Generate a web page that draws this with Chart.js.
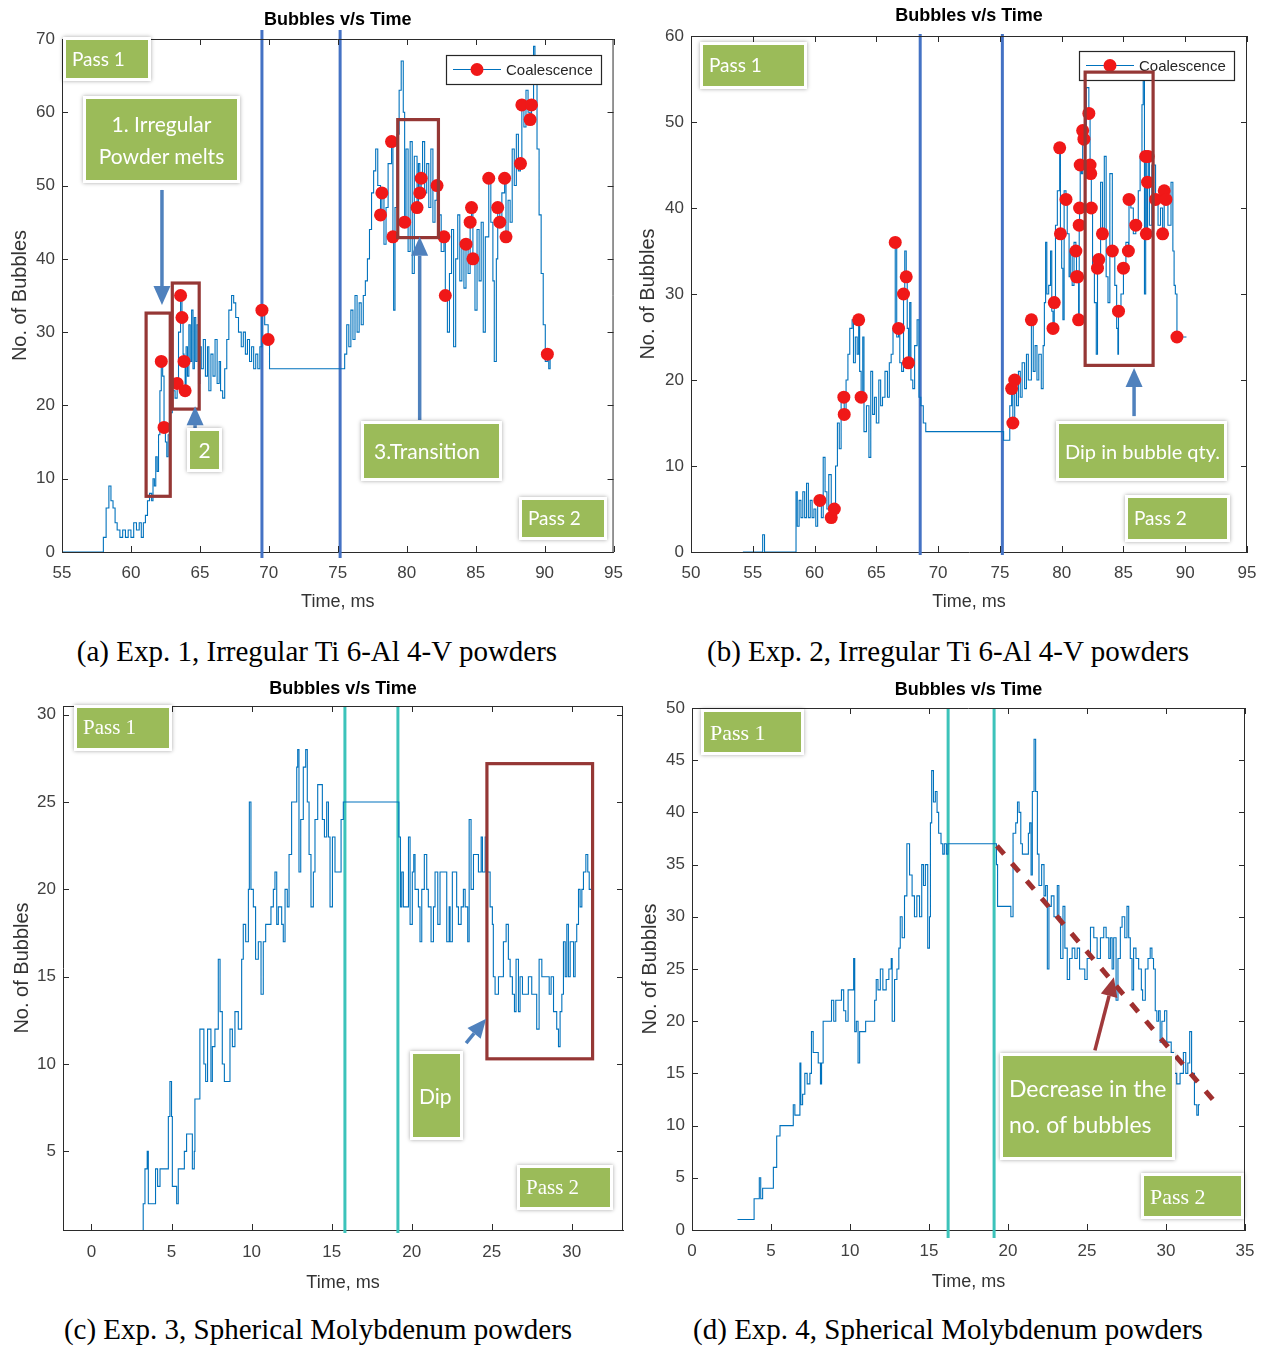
<!DOCTYPE html>
<html><head><meta charset="utf-8">
<script src="https://cdn.jsdelivr.net/npm/chart.js@4.4.1/dist/chart.umd.min.js"></script>
<style>
html,body{margin:0;padding:0;background:#fff;}
#root{position:relative;width:1268px;height:1346px;overflow:hidden;background:#fff;}
canvas{position:absolute;}
.gb{position:absolute;background:#9BBB59;color:#fff;box-sizing:border-box;border:3px solid #fff;box-shadow:0 0 4px rgba(0,0,0,0.35);font-family:Lato,"Open Sans",sans-serif;display:flex;align-items:center;padding-left:6px;z-index:5;line-height:1.5;}
.gb.c{justify-content:center;text-align:center;padding-left:0;}
.gb.s{font-family:"Liberation Serif","Times New Roman",serif;}
.cap{position:absolute;font-family:"Liberation Serif","Times New Roman",serif;font-size:29px;line-height:30px;color:#000;white-space:nowrap;transform:translateX(-50%);}
</style></head>
<body>
<div id="root">
<canvas id="ca" width="634" height="620" style="left:0;top:0"></canvas>
<canvas id="cb" width="634" height="620" style="left:634px;top:0"></canvas>
<canvas id="cc" width="634" height="640" style="left:0;top:670px"></canvas>
<canvas id="cd" width="634" height="640" style="left:634px;top:670px"></canvas>

<div class="gb" style="left:63px;top:37px;width:88px;height:44px;font-size:19px;">Pass 1</div>
<div class="gb c" style="left:83px;top:96px;width:157px;height:87px;font-size:21px;">1. Irregular<br>Powder melts</div>
<div class="gb c" style="left:187px;top:428px;width:35px;height:44px;font-size:21px;">2</div>
<div class="gb" style="left:361px;top:421px;width:141px;height:60px;font-size:21px;padding-left:10px;">3.Transition</div>
<div class="gb" style="left:519px;top:497px;width:88px;height:43px;font-size:19px;">Pass 2</div>

<div class="gb" style="left:700px;top:42px;width:107px;height:47px;font-size:19px;">Pass 1</div>
<div class="gb" style="left:1056px;top:421px;width:171px;height:60px;font-size:20px;">Dip in bubble qty.</div>
<div class="gb" style="left:1125px;top:495px;width:105px;height:47px;font-size:19px;">Pass 2</div>

<div class="gb s" style="left:74px;top:705px;width:98px;height:46px;font-size:21px;">Pass 1</div>
<div class="gb" style="left:410px;top:1051px;width:53px;height:89px;font-size:21px;">Dip</div>
<div class="gb s" style="left:517px;top:1165px;width:96px;height:45px;font-size:21px;">Pass 2</div>

<div class="gb s" style="left:701px;top:709px;width:103px;height:46px;font-size:22px;">Pass 1</div>
<div class="gb" style="left:1000px;top:1053px;width:175px;height:107px;font-size:23px;line-height:1.55;">Decrease in the<br>no. of bubbles</div>
<div class="gb s" style="left:1141px;top:1173px;width:103px;height:46px;font-size:22px;">Pass 2</div>

<div class="cap" style="left:317px;top:636px">(a) Exp. 1, Irregular Ti 6-Al 4-V powders</div>
<div class="cap" style="left:948px;top:636px">(b) Exp. 2, Irregular Ti 6-Al 4-V powders</div>
<div class="cap" style="left:318px;top:1314px">(c) Exp. 3, Spherical Molybdenum powders</div>
<div class="cap" style="left:948px;top:1314px">(d) Exp. 4, Spherical Molybdenum powders</div>
</div>
<script>
// ---------- DATA ----------
const chartTitle = 'Bubbles v/s Time';
const xTitle = 'Time, ms';
const yTitle = 'No. of Bubbles';
const seriesName = 'Coalescence';

// (a) Exp. 1
const aTime = [55,57.9,58.0,58.2,58.4,58.55,58.7,58.85,59.0,59.2,
59.4,59.6,59.8,60.0,60.2,60.4,60.6,60.75,60.9,61.05,
61.2,61.35,61.5,61.6,61.7,61.8,61.9,62.0,62.1,62.2,
62.3,62.4,62.5,62.6,62.7,62.85,63.0,63.2,63.35,63.45,
63.6,63.7,63.78,63.85,63.93,64.0,64.1,64.2,64.3,64.4,
64.5,64.6,64.7,64.8,64.9,65.0,65.1,65.25,65.4,65.55,
65.65,65.8,65.95,66.1,66.25,66.4,66.5,66.65,66.8,66.95,
67.1,67.3,67.45,67.6,67.8,68.0,68.15,68.3,68.45,68.6,
68.75,68.9,69.05,69.2,69.35,69.5,69.7,69.95,70.05,75.4,
75.5,75.65,75.8,75.95,76.1,76.25,76.4,76.55,76.7,76.85,
77.0,77.15,77.3,77.45,77.6,77.75,77.9,78.1,78.2,78.35,
78.5,78.65,78.9,79.0,79.05,79.15,79.3,79.45,79.6,79.75,
79.85,79.95,80.1,80.25,80.4,80.55,80.75,80.85,80.95,81.05,
81.15,81.3,81.45,81.6,81.75,81.9,82.05,82.2,82.35,82.5,
82.7,82.8,82.95,83.1,83.25,83.4,83.55,83.7,83.85,84.0,
84.15,84.3,84.45,84.6,84.7,84.8,84.95,85.1,85.25,85.4,
85.55,85.7,85.95,86.1,86.25,86.35,86.5,86.6,86.75,86.9,
87.1,87.2,87.35,87.5,87.65,87.8,87.95,88.1,88.25,88.35,
88.5,88.65,88.8,88.95,89.05,89.2,89.3,89.45,89.6,89.75,
89.9,90.05,90.2,90.3,90.4];
const aCount = [0,0,2,6,9,7,6,4,3,2,
3,2,3,2,4,3,4,2,4,5,
7,8,7,10,9,13,11,16,22,26,
24,17,15,13,16,19,22,21,23,30,
35,32,27,26,22,28,24,31,26,33,
25,32,26,31,23,28,25,29,24,28,
22,27,24,29,23,26,22,21,25,29,
33,35,34,32,30,28,30,27,29,26,
28,25,27,25,28,33,31,29,25,25,
27,31,28,33,29,35,30,34,31,35,
37,40,44,49,52,55,50,46,49,42,
47,53,56,43,33,47,57,63,67,60,
45,55,41,56,38,54,47,53,49,51,
56,49,53,47,55,45,48,50,46,41,
43,35,30,38,44,28,40,46,37,42,
36,42,38,45,47,40,33,44,37,45,
30,43,51,45,37,26,40,47,45,49,
51,43,48,45,55,50,57,52,53,61,
58,63,60,59,61,69,64,55,46,38,
31,26,27,25,27];
const aMarkTime = [62.2,62.4,63.35,63.6,63.7,63.85,63.93,69.5,69.95,78.1,78.2,78.9,79.0,79.85,80.75,80.95,81.05,82.2,82.7,82.8,84.3,84.6,84.7,84.8,85.95,86.6,86.75,87.1,87.2,88.25,88.35,88.95,89.05,90.2];
const aMarkCount = [26,17,23,35,32,26,22,33,29,46,49,56,43,45,47,49,51,50,43,35,42,45,47,40,51,47,45,51,43,53,61,59,61,27];
const aXTicks = [55,60,65,70,75,80,85,90,95];
const aYTicks = [0,10,20,30,40,50,60,70];

// (b) Exp. 2
const bTime = [54.2,55.75,55.8,55.95,58.4,58.5,58.6,58.75,58.9,59.05,
59.2,59.35,59.5,59.65,59.8,59.95,60.1,60.25,60.43,60.55,
60.7,60.85,61.0,61.15,61.35,61.5,61.6,61.7,61.85,62.0,
62.15,62.37,62.4,62.55,62.7,62.85,63.04,63.15,63.3,63.45,
63.57,63.65,63.77,63.9,64.0,64.2,64.4,64.55,64.7,64.85,
65.0,65.2,65.35,65.5,65.7,65.9,66.05,66.2,66.35,66.53,
66.65,66.8,66.9,67.05,67.2,67.3,67.42,67.5,67.6,67.7,
67.8,67.95,68.1,68.3,68.45,68.6,68.8,69.0,75.2,75.3,
75.7,75.8,75.95,76.05,76.2,76.35,76.5,76.65,76.8,77.0,
77.15,77.3,77.55,77.7,77.85,78.0,78.15,78.35,78.5,78.6,
78.7,78.8,78.95,79.1,79.2,79.3,79.4,79.5,79.65,79.84,
79.9,80.0,80.1,80.2,80.35,80.45,80.6,80.7,80.85,81.0,
81.15,81.2,81.3,81.37,81.42,81.45,81.5,81.6,81.7,81.8,
82.0,82.2,82.3,82.35,82.4,82.5,82.65,82.8,82.9,83.0,
83.15,83.3,83.45,83.6,83.75,83.9,84.1,84.3,84.45,84.55,
84.6,84.8,85.0,85.2,85.4,85.45,85.6,85.8,86.0,86.2,
86.35,86.5,86.6,86.7,86.8,86.85,86.95,87.0,87.1,87.3,
87.6,87.8,88.0,88.17,88.3,88.44,88.6,88.85,89.0,89.1,
89.2,89.33,90.1];
const bCount = [0,0,2,0,0,7,3,6,4,7,
4,8,4,6,4,5,3,6,6,4,
11,7,5,9,4,5,5,10,15,12,
18,18,16,20,23,26,27,22,25,23,
27,21,18,25,14,17,11,21,16,18,
15,20,17,18,21,18,22,23,26,36,
25,26,22,21,30,35,32,26,22,29,
20,19,24,27,18,17,15,14,14,13,
13,17,19,15,20,17,21,18,22,19,
23,20,27,21,24,20,23,19,24,29,
36,30,31,35,28,26,29,38,42,47,
37,33,27,42,41,37,32,35,31,36,
35,32,32,27,38,40,45,44,49,48,
54,51,45,44,40,33,29,23,33,34,
43,37,46,32,29,44,35,31,26,23,
28,30,33,36,35,41,40,37,38,42,
46,52,55,30,46,37,43,46,38,45,
41,38,40,37,42,41,38,43,35,31,
30,25,25];
const bMarkTime = [60.43,61.35,61.6,62.37,62.4,63.57,63.77,66.53,66.8,67.2,67.42,67.6,75.95,76.05,76.2,77.55,79.3,79.4,79.84,79.9,80.35,81.15,81.2,81.3,81.37,81.42,81.45,81.5,81.7,81.8,82.2,82.3,82.35,82.4,82.9,83.0,83.3,84.1,84.6,85.0,85.4,85.45,86.0,86.8,86.85,86.95,87.0,87.6,88.17,88.3,88.44,89.33];
const bMarkCount = [6,4,5,18,16,27,18,36,26,30,32,22,19,15,20,27,26,29,47,37,41,35,32,32,27,38,40,45,49,48,51,45,44,40,33,34,37,35,28,33,35,41,38,46,37,43,46,41,37,42,41,25];
const bXTicks = [50,55,60,65,70,75,80,85,90,95];
const bYTicks = [0,10,20,30,40,50,60];

// (c) Exp. 3
const cTime = [3.15,3.23,3.34,3.48,3.55,3.86,4.0,4.13,4.28,4.69,
4.8,4.9,5.0,5.05,5.32,5.42,5.63,5.8,5.94,6.15,
6.3,6.42,6.46,6.63,6.77,6.88,7.02,7.13,7.25,7.46,
7.55,7.71,7.92,8.03,8.17,8.3,8.5,8.65,8.8,8.96,
9.17,9.38,9.48,9.63,9.8,9.86,9.96,10.11,10.25,10.42,
10.59,10.73,10.88,11.05,11.21,11.36,11.46,11.57,11.67,11.88,
11.98,12.09,12.23,12.34,12.5,12.67,12.82,12.88,12.96,13.07,
13.23,13.38,13.48,13.59,13.71,13.86,13.96,14.13,14.28,14.42,
14.55,14.69,14.8,14.9,15.05,15.21,15.42,15.59,15.73,19.15,
19.2,19.3,19.38,19.48,19.8,19.9,20.04,20.13,20.21,20.42,
20.52,20.63,20.79,20.94,21.04,21.21,21.36,21.46,21.63,21.77,
22.09,22.19,22.34,22.4,22.54,22.71,22.81,22.92,23.09,23.23,
23.34,23.5,23.59,23.71,23.86,24.06,24.17,24.34,24.42,24.59,
24.7,24.9,25.04,25.1,25.21,25.42,25.63,25.73,25.9,26.04,
26.15,26.29,26.42,26.52,26.67,26.77,26.92,27.09,27.29,27.5,
27.71,27.81,27.96,28.13,28.27,28.44,28.59,28.71,28.86,28.96,
29.06,29.17,29.27,29.38,29.48,29.59,29.69,29.79,29.9,30.11,
30.21,30.31,30.42,30.52,30.63,30.73,30.88,31.0,31.09,31.21];
const cCount = [0,2,4,5,2,2,4,3,4,4,
7,9,7,3,2,4,4,5,6,6,
4,5,8,8,12,12,10,9,12,9,
11,12,16,13,10,9,9,12,11,13,
12,16,18,17,20,25,20,19,16,17,
14,17,18,18,19,20,21,18,19,18,
17,20,19,22,25,25,27,28,21,24,
27,28,25,22,19,21,24,26,26,24,
23,25,23,19,23,21,21,24,25,25,
23,19,21,19,23,18,21,22,20,19,
17,20,22,20,19,17,19,21,18,21,
21,17,19,17,21,21,19,18,19,20,
19,17,24,20,22,22,21,23,21,23,
21,19,18,15,14,15,15,17,18,16,
15,14,13,16,13,15,14,14,15,14,
14,12,16,15,15,15,14,15,13,13,
12,11,13,14,17,15,18,15,17,15,
17,18,20,19,20,21,22,21,20,20];
const cXTicks = [0,5,10,15,20,25,30];
const cYTicks = [5,10,15,20,25,30];

// (d) Exp. 4
const dTime = [2.88,3.78,3.93,4.2,4.26,4.35,4.47,5.04,5.15,5.36,
5.57,6.3,6.41,6.51,6.72,6.83,6.89,7.0,7.14,7.29,
7.46,7.56,7.67,7.84,7.99,8.13,8.2,8.3,8.72,8.83,
8.97,9.1,9.46,9.6,9.73,9.88,10.09,10.23,10.3,10.4,
10.51,10.61,10.82,10.99,11.45,11.56,11.66,11.77,11.92,12.08,
12.29,12.46,12.61,12.67,12.82,12.97,13.09,13.18,13.3,13.45,
13.6,13.77,13.93,14.08,14.23,14.4,14.54,14.65,14.77,14.92,
15.03,15.09,15.17,15.28,15.4,15.51,15.61,15.76,15.87,15.97,
16.1,16.2,19.23,19.27,19.34,20.07,20.18,20.32,20.49,20.6,
20.7,20.81,20.91,21.16,21.29,21.37,21.46,21.54,21.65,21.75,
21.86,21.96,22.13,22.28,22.38,22.49,22.59,22.74,22.91,23.12,
23.22,23.33,23.48,23.6,23.75,23.9,24.06,24.23,24.38,24.53,
24.7,24.86,25.01,25.22,25.43,25.64,25.85,26.06,26.21,26.38,
26.48,26.59,26.69,26.84,26.96,27.11,27.22,27.39,27.53,27.64,
27.74,27.85,27.95,28.1,28.27,28.44,28.52,28.69,28.86,29.0,
29.11,29.21,29.32,29.42,29.53,29.63,29.74,29.91,30.05,30.16,
30.33,30.47,30.68,30.89,31.1,31.25,31.38,31.5,31.62,31.8,
31.95,32.05,32.15];
const dCount = [1,1,3,3,5,3,4,4,6,9,
10,10,12,11,11,16,12,13,15,14,
15,19,17,17,16,14,16,20,20,22,
20,22,23,21,20,23,23,26,19,20,
16,19,19,20,20,22,24,23,25,23,
24,25,26,20,24,25,27,30,28,32,
37,34,32,30,32,30,35,33,35,27,
30,39,44,41,42,40,38,37,36,37,
36,37,37,35,31,31,30,38,39,41,
40,37,36,36,38,39,34,42,47,42,
36,33,35,32,33,25,31,32,30,33,
30,26,31,27,24,26,27,26,27,25,
25,24,26,29,28,26,28,29,28,26,
28,25,28,22,26,29,30,28,31,28,
26,23,27,26,25,23,22,25,26,27,
26,25,21,20,21,18,20,21,18,18,
17,15,14,15,17,15,16,19,15,12,
11,12,12];
const dXTicks = [0,5,10,15,20,25,30,35];
const dYTicks = [0,5,10,15,20,25,30,35,40,45,50];

// ---------- ANNOTATIONS (data coordinates) ----------
const ANN = {
  ca: {vlines:[69.5,75.17], vcolor:'#4472C4', vwidth:3, vext:[-9,6],
       rects:[[61.1,62.85,7.6,32.6],[63.0,64.95,19.5,36.7],[79.35,82.3,42.9,59.0]],
       arrows:[[62.25,49.4,62.25,33.7],[64.65,16.4,64.65,19.9],[80.94,18.0,80.94,43.0]], acolor:'#4F81BD',
       legend:{dx:-168,dy:16,w:155,h:29}},
  cb: {vlines:[68.55,75.2], vcolor:'#4472C4', vwidth:3, vext:[-2,3],
       rects:[[81.9,87.4,21.7,55.8]],
       arrows:[[85.86,15.8,85.86,21.4]], acolor:'#4F81BD',
       legend:{dx:-168,dy:15,w:155,h:29}},
  cc: {vlines:[15.83,19.14], vcolor:'#3CC3BA', vwidth:3, vext:[0,3],
       rects:[[24.7,31.3,10.3,27.2]],
       arrows:[[23.4,11.2,24.65,12.6]], acolor:'#4F81BD'},
  cd: {vlines:[16.21,19.12], vcolor:'#3CC3BA', vwidth:3, vext:[0,8],
       dashed:[[19.3,36.8,33.07,12.3]],
       arrows:[[25.5,17.2,26.7,24.2]], acolor:'#A0393B'}
};

// ---------- RENDER ----------
const FONT = '"Liberation Sans", Arial, Helvetica, sans-serif';
Chart.defaults.font.family = FONT;

function drawArrow(ctx,x1,y1,x2,y2,color,lw,hl,hw){
  const ang=Math.atan2(y2-y1,x2-x1);
  const bx=x2-hl*Math.cos(ang), by=y2-hl*Math.sin(ang);
  ctx.strokeStyle=color; ctx.fillStyle=color; ctx.lineWidth=lw; ctx.lineCap='butt';
  ctx.beginPath(); ctx.moveTo(x1,y1); ctx.lineTo(bx,by); ctx.stroke();
  ctx.beginPath(); ctx.moveTo(x2,y2);
  ctx.lineTo(bx+hw/2*Math.sin(ang), by-hw/2*Math.cos(ang));
  ctx.lineTo(bx-hw/2*Math.sin(ang), by+hw/2*Math.cos(ang));
  ctx.closePath(); ctx.fill();
}

const framePlugin = {
  id:'frame',
  afterDraw(chart){
    const {ctx, chartArea:a, scales:{x,y}} = chart;
    ctx.save();
    ctx.strokeStyle='#2b2b2b'; ctx.lineWidth=1;
    ctx.beginPath();
    ctx.moveTo(a.left, a.top+0.5); ctx.lineTo(a.right, a.top+0.5);
    ctx.moveTo(a.right-0.5, a.top); ctx.lineTo(a.right-0.5, a.bottom);
    const L=6;
    x.ticks.forEach(t=>{const px=Math.round(x.getPixelForValue(t.value))+0.5;
      ctx.moveTo(px,a.bottom); ctx.lineTo(px,a.bottom-L); ctx.moveTo(px,a.top); ctx.lineTo(px,a.top+L);});
    y.ticks.forEach(t=>{const py=Math.round(y.getPixelForValue(t.value))+0.5;
      ctx.moveTo(a.left,py); ctx.lineTo(a.left+L,py); ctx.moveTo(a.right,py); ctx.lineTo(a.right-L,py);});
    ctx.stroke();
    ctx.restore();
  }
};

const annotPlugin = {
  id:'annot',
  beforeDatasetsDraw(chart){
    const o = ANN[chart.canvas.id]; if(!o) return;
    const {ctx, chartArea:a, scales:{x}} = chart;
    ctx.save(); ctx.strokeStyle=o.vcolor; ctx.lineWidth=o.vwidth;
    o.vlines.forEach(t=>{const px=x.getPixelForValue(t);
      ctx.beginPath(); ctx.moveTo(px,a.top+o.vext[0]); ctx.lineTo(px,a.bottom+o.vext[1]); ctx.stroke();});
    ctx.restore();
  },
  afterDatasetsDraw(chart){
    const o = ANN[chart.canvas.id]; if(!o) return;
    const {ctx, chartArea:a, scales:{x,y}} = chart;
    ctx.save();
    if(o.legend){
      const L=o.legend, lx=Math.round(a.right+L.dx), ly=Math.round(a.top+L.dy), my=ly+L.h/2;
      ctx.fillStyle='#fff'; ctx.fillRect(lx,ly,L.w,L.h);
      ctx.strokeStyle='#262626'; ctx.lineWidth=1.2; ctx.strokeRect(lx+0.5,ly+0.5,L.w,L.h);
      ctx.strokeStyle='#0072BD'; ctx.lineWidth=1.2;
      ctx.beginPath(); ctx.moveTo(lx+7,my); ctx.lineTo(lx+55,my); ctx.stroke();
      ctx.fillStyle='#F01818'; ctx.beginPath(); ctx.arc(lx+31,my,6.5,0,Math.PI*2); ctx.fill();
      ctx.fillStyle='#262626'; ctx.font='15px '+FONT; ctx.textBaseline='middle'; ctx.textAlign='left';
      ctx.fillText(seriesName, lx+60, my+1);
    }
    (o.rects||[]).forEach(r=>{
      const x1=x.getPixelForValue(r[0]), x2=x.getPixelForValue(r[1]);
      const y1=y.getPixelForValue(r[3]), y2=y.getPixelForValue(r[2]);
      ctx.strokeStyle='#953735'; ctx.lineWidth=3.2; ctx.strokeRect(x1,y1,x2-x1,y2-y1);
    });
    (o.dashed||[]).forEach(d=>{
      ctx.strokeStyle='#A0302F'; ctx.lineWidth=5; ctx.setLineDash([11,12]); ctx.lineCap='butt';
      ctx.beginPath(); ctx.moveTo(x.getPixelForValue(d[0]),y.getPixelForValue(d[1]));
      ctx.lineTo(x.getPixelForValue(d[2]),y.getPixelForValue(d[3])); ctx.stroke();
      ctx.setLineDash([]);
    });
    (o.arrows||[]).forEach(r=>{
      drawArrow(ctx,x.getPixelForValue(r[0]),y.getPixelForValue(r[1]),x.getPixelForValue(r[2]),y.getPixelForValue(r[3]),o.acolor,3.5,19,17);
    });
    ctx.restore();
  }
};

function build(id, s){
  const datasets = [{
    label: seriesName,
    data: s.t.map((t,i)=>({x:t, y:s.v[i]})),
    borderColor:'#0072BD', borderWidth:1.1, pointRadius:0, stepped:true, fill:false, order:2
  }];
  if(s.mt){
    datasets.push({
      label: seriesName,
      data: s.mt.map((t,i)=>({x:t, y:s.mv[i]})),
      showLine:false, pointRadius:6.5, pointBackgroundColor:'#F01818', pointBorderColor:'#F01818', pointBorderWidth:0, order:1
    });
  }
  const tickFont = {family:FONT, size:17};
  return new Chart(document.getElementById(id), {
    type:'line',
    data:{datasets},
    options:{
      responsive:false, animation:false, events:[],
      layout:{padding:{left:0,right:s.padR,top:0,bottom:0}},
      plugins:{
        legend:{display:false}, tooltip:{enabled:false},
        title:{display:true, text:chartTitle, fullSize:false, color:'#000',
               font:{family:FONT,size:18,weight:'bold',lineHeight:1.2}, padding:{top:s.tTop,bottom:s.tBot}}
      },
      scales:{
        x:{type:'linear', min:s.xmin, max:s.xmax,
           afterBuildTicks:sc=>{sc.ticks=s.xt.map(v=>({value:v}));},
           afterFit:sc=>{sc.height=s.xh;},
           grid:{display:false, drawTicks:false},
           border:{display:true, color:'#2b2b2b', width:1},
           ticks:{color:'#404040', font:tickFont, padding:s.xtp, maxRotation:0, autoSkip:false},
           title:{display:true, text:xTitle, color:'#333', font:{family:FONT,size:18,lineHeight:1.2}, padding:{top:0,bottom:s.xtb}}},
        y:{type:'linear', min:s.ymin, max:s.ymax,
           afterBuildTicks:sc=>{sc.ticks=s.yt.map(v=>({value:v}));},
           afterFit:sc=>{sc.width=s.yw;},
           grid:{display:false, drawTicks:false},
           border:{display:true, color:'#2b2b2b', width:1},
           ticks:{color:'#404040', font:tickFont, padding:7, autoSkip:false},
           title:{display:true, text:yTitle, color:'#333', font:{family:FONT,size:20,lineHeight:1.2}, padding:{top:s.ytp,bottom:0}}}
      }
    },
    plugins:[annotPlugin, framePlugin]
  });
}

build('ca',{t:aTime,v:aCount,mt:aMarkTime,mv:aMarkCount,xt:aXTicks,yt:aYTicks,
  xmin:55,xmax:95,ymin:0,ymax:70,padR:18,tTop:9,tBot:8.4,xh:68,xtp:11,xtb:7,yw:62,ytp:8});
build('cb',{t:bTime,v:bCount,mt:bMarkTime,mv:bMarkCount,xt:bXTicks,yt:bYTicks,
  xmin:50,xmax:95,ymin:0,ymax:60,padR:21,tTop:5,tBot:9.4,xh:68,xtp:11,xtb:7,yw:57,ytp:2});
build('cc',{t:cTime,v:cCount,xt:cXTicks,yt:cYTicks,
  xmin:-1.78,xmax:33.2,ymin:0.5,ymax:30.5,padR:11,tTop:8,tBot:6.4,xh:80,xtp:12,xtb:16,yw:63,ytp:10});
build('cd',{t:dTime,v:dCount,xt:dXTicks,yt:dYTicks,
  xmin:0,xmax:35,ymin:0,ymax:50,padR:23,tTop:9,tBot:7.4,xh:80,xtp:11,xtb:17,yw:58,ytp:4});
</script>
</body></html>
